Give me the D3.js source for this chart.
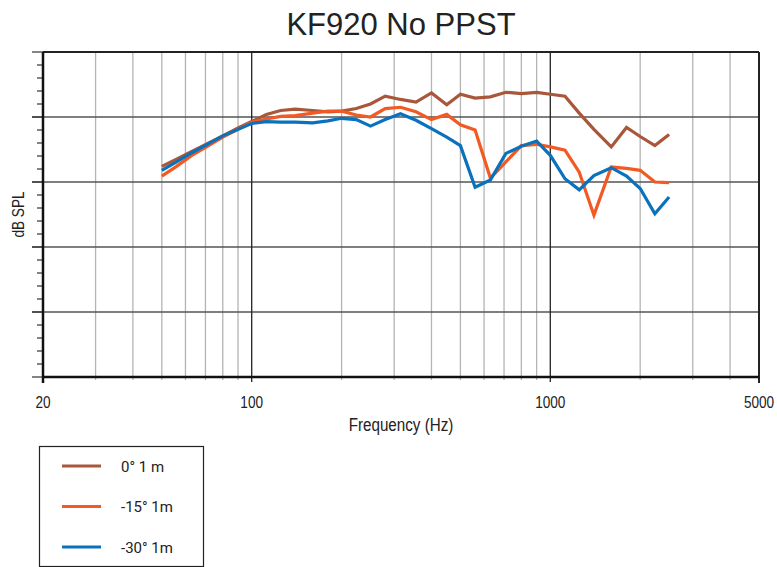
<!DOCTYPE html>
<meta charset="utf-8">
<style>
html, body {
  margin: 0;
  overflow: hidden;
  width: 100%;
  height: 100%;
  background: #fff;
}
</style>
<title>KF920 No PPST</title>
<body>
<script src="https://cdn.jsdelivr.net/npm/d3@7"></script>
<script>
var width = 777,
    height = 567;

// 1/6 octave frequencies (Hz)
var freqs = [50, 56, 63, 71, 80, 90, 100, 112, 125, 140, 160, 180, 200, 224, 250,
  280, 315, 355, 400, 450, 500, 560, 630, 710, 800, 900, 1000, 1120, 1250, 1400,
  1600, 1800, 2000, 2240, 2500];

var spl0 = [72.4, 73.5, 74.7, 75.9, 77.1, 78.3, 79.3, 80.4, 81.0, 81.2, 81.0, 80.8,
  80.9, 81.3, 82.0, 83.2, 82.7, 82.3, 83.7, 81.9, 83.5, 82.9, 83.1, 83.8, 83.6,
  83.8, 83.5, 83.2, 80.6, 78.1, 75.4, 78.4, 77.0, 75.6, 77.3];

var spl15 = [70.9, 72.4, 74.1, 75.5, 76.9, 78.1, 79.2, 79.7, 80.1, 80.2, 80.6, 80.9,
  80.9, 80.3, 80.0, 81.3, 81.5, 80.8, 79.6, 80.4, 78.8, 78.0, 70.6, 73.1, 75.6,
  75.8, 75.4, 74.9, 71.5, 64.9, 72.3, 72.1, 71.8, 70.0, 69.9];

var spl30 = [71.8, 73.1, 74.5, 75.8, 77.1, 78.1, 79.0, 79.3, 79.2, 79.2, 79.1, 79.4,
  79.8, 79.6, 78.6, 79.6, 80.5, 79.5, 78.2, 76.9, 75.6, 69.2, 70.3, 74.4, 75.5,
  76.3, 74.1, 70.5, 68.8, 71.0, 72.2, 70.9, 69.0, 65.1, 67.7];

var seriesNames = ["0\u00b0 1 m", "-15\u00b0 1m", "-30\u00b0 1m"];
var seriesColors = ["#a9573a", "#f25a22", "#0a72bd"];

var majorX = [100, 1000];
var minorX = [30, 40, 50, 60, 70, 80, 90, 200, 300, 400, 500, 600, 700, 800, 900,
  2000, 3000, 4000];
var xTickLabels = [20, 100, 1000, 5000];
var yMajor = [50, 60, 70, 80];
var yMinor = d3.range(40, 91, 2);

var pLeft = 43, pRight = 759, pTop = 52, pBottom = 377;

var x = d3.scaleLog().domain([20, 5000]).range([pLeft, pRight]);
var y = d3.scaleLinear().domain([40, 90]).range([pBottom, pTop]);

var svg = d3.select("body").append("svg")
    .attr("width", width)
    .attr("height", height);

// narrow text: regular sans squeezed horizontally
function narrowText(px, py, size, str, rot) {
  var g = svg.append("g")
      .attr("transform", "translate(" + px + "," + py + ")" + (rot ? " rotate(" + rot + ")" : ""));
  g.append("text")
      .attr("transform", "scale(0.8,1)")
      .attr("text-anchor", "middle")
      .attr("font-family", "Liberation Sans, Arial, sans-serif")
      .attr("font-size", size)
      .attr("fill", "#222")
      .text(str);
}

// minor vertical grid
svg.selectAll(".vminor").data(minorX).enter().append("line")
    .attr("x1", d => x(d)).attr("x2", d => x(d))
    .attr("y1", pTop).attr("y2", pBottom + 3)
    .attr("stroke", "#b4b4b4").attr("stroke-width", 1.3);

// horizontal grid
svg.selectAll(".hmajor").data(yMajor).enter().append("line")
    .attr("x1", 32).attr("x2", pRight)
    .attr("y1", d => y(d)).attr("y2", d => y(d))
    .attr("stroke", "#555").attr("stroke-width", 1.4);

// major vertical grid
svg.selectAll(".vmajor").data(majorX).enter().append("line")
    .attr("x1", d => x(d)).attr("x2", d => x(d))
    .attr("y1", pTop).attr("y2", pBottom + 5)
    .attr("stroke", "#222").attr("stroke-width", 1.3);

// left minor ticks
svg.selectAll(".ytick").data(yMinor).enter().append("line")
    .attr("x1", d => (d % 10 === 0) ? 32 : 37).attr("x2", pLeft)
    .attr("y1", d => y(d)).attr("y2", d => y(d))
    .attr("stroke", "#333").attr("stroke-width", 1.2);

// frame
svg.append("line").attr("x1", pLeft).attr("x2", pRight).attr("y1", pTop).attr("y2", pTop)
    .attr("stroke", "#222").attr("stroke-width", 2);
svg.append("line").attr("x1", pRight).attr("x2", pRight).attr("y1", pTop).attr("y2", pBottom + 6)
    .attr("stroke", "#222").attr("stroke-width", 2);
svg.append("line").attr("x1", pLeft).attr("x2", pLeft).attr("y1", pTop).attr("y2", pBottom + 6)
    .attr("stroke", "#111").attr("stroke-width", 2.5);
svg.append("line").attr("x1", pLeft).attr("x2", pRight).attr("y1", pBottom).attr("y2", pBottom)
    .attr("stroke", "#111").attr("stroke-width", 2.5);

// bottom tick labels
xTickLabels.forEach(function(d) {
  narrowText(x(d), 408, 17, d);
});
narrowText((pLeft + pRight) / 2, 431, 19, "Frequency (Hz)");
narrowText(24, (pTop + pBottom) / 2, 17, "dB SPL", -90);

svg.append("text")
    .attr("x", 401).attr("y", 35)
    .attr("text-anchor", "middle")
    .attr("font-family", "Liberation Sans, Arial, sans-serif")
    .attr("font-size", 31)
    .attr("fill", "#222")
    .text("KF920 No PPST");

// curves
var line = d3.line()
    .x((d, i) => x(freqs[i]))
    .y(d => y(d));

[spl0, spl15, spl30].forEach(function(s, i) {
  svg.append("path")
    .datum(s)
    .attr("d", line)
    .attr("fill", "none")
    .attr("stroke", seriesColors[i])
    .attr("stroke-width", 3.2)
    .attr("stroke-linejoin", "miter");
});

// legend
var legend = svg.append("g");
legend.append("rect")
    .attr("x", 39.5).attr("y", 446.5)
    .attr("width", 164).attr("height", 120)
    .attr("fill", "none").attr("stroke", "#222").attr("stroke-width", 1.2);

seriesNames.forEach(function(name, i) {
  var ly = 466 + i * 40.5;
  legend.append("line")
    .attr("x1", 62).attr("x2", 101)
    .attr("y1", ly).attr("y2", ly)
    .attr("stroke", seriesColors[i]).attr("stroke-width", 3);
  legend.append("text")
    .attr("x", 121).attr("y", ly + 5.5)
    .attr("font-family", "Roboto, Arial, sans-serif")
    .attr("font-size", 15)
    .attr("fill", "#222")
    .text(name);
});
</script>
</body>
